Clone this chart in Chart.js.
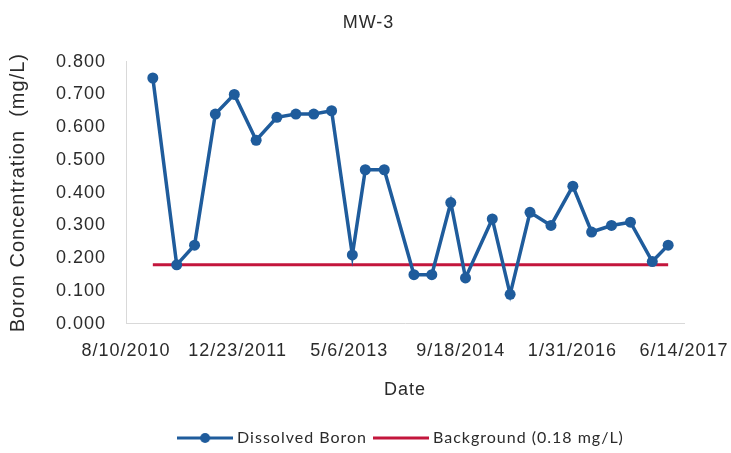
<!DOCTYPE html>
<html>
<head>
<meta charset="utf-8">
<script src="https://cdn.jsdelivr.net/npm/chart.js@4.4.1/dist/chart.umd.min.js"></script>
<style>
  html, body { margin: 0; padding: 0; background: #fff; }
  #wrap { width: 731px; height: 453px; position: relative; }
</style>
</head>
<body>
<div id="wrap"><canvas id="boron-chart"></canvas></div>
<script>
// --- data --- //
const sampleDates = [
    "2010-12-08", "2011-03-25", "2011-06-13", "2011-09-14", "2011-12-08",
    "2012-03-15", "2012-06-16", "2012-09-09", "2012-11-28", "2013-02-16",
    "2013-05-20", "2013-07-17", "2013-10-10", "2014-02-20", "2014-05-11",
    "2014-08-04", "2014-10-09", "2015-02-06", "2015-04-27", "2015-07-25",
    "2015-10-27", "2016-02-02", "2016-04-26", "2016-07-24", "2016-10-17",
    "2017-01-23", "2017-04-04"
];
const boronValues = [
    0.75, 0.18, 0.24, 0.64, 0.70,
    0.56, 0.63, 0.64, 0.64, 0.65,
    0.21, 0.47, 0.47, 0.15, 0.15,
    0.37, 0.14, 0.32, 0.09, 0.34,
    0.30, 0.42, 0.28, 0.30, 0.31,
    0.19, 0.24
];
const backgroundLevel = 0.18;
const axisStart = "2010-08-10";
const axisEnd = "2017-06-14";
const tickStepDays = 500;
const yTicks = [0, 0.1, 0.2, 0.3, 0.4, 0.5, 0.6, 0.7, 0.8];

const blue = '#1f5c9c';
const red = '#c3163c';
const textColor = '#2b2b2b';
const DAY = 86400000;

// days since the first axis date, so the 500 day ticks line up
const startMs = Date.parse(axisStart);
const toDay = d => (Date.parse(d) - startMs) / DAY;
const fmtDate = days => {
    const d = new Date(startMs + days * DAY);
    return (d.getUTCMonth() + 1) + '/' + d.getUTCDate() + '/' + d.getUTCFullYear();
};

const boronPoints = sampleDates.map((d, i) => ({ x: toDay(d), y: boronValues[i] }));
const backgroundPoints = [
    { x: toDay(sampleDates[0]), y: backgroundLevel },
    { x: toDay(sampleDates[sampleDates.length - 1]), y: backgroundLevel }
];

// legend swatches: line with a dot, and plain line
const makeSwatch = (color, withDot) => {
    const c = document.createElement('canvas');
    c.width = 56; c.height = 14;
    const g = c.getContext('2d');
    g.strokeStyle = color;
    g.lineWidth = 3;
    g.beginPath(); g.moveTo(0, 7); g.lineTo(56, 7); g.stroke();
    if (withDot) {
        g.fillStyle = color;
        g.beginPath(); g.arc(28, 7, 5, 0, Math.PI * 2); g.fill();
    }
    return c;
};
const boronSwatch = makeSwatch(blue, true);
const bgSwatch = makeSwatch(red, false);

// widen text a little, the scanned original is stretched sideways
// and nudge the legend right like in the original
const tweaksPlugin = {
    id: 'tweaks',
    beforeLayout(chart) { chart.ctx.letterSpacing = '1px'; },
    afterLayout(chart) {
        chart.legend.left += 34;
        chart.legend.right += 34;
        chart.legend.top += 3;
        chart.legend.bottom += 3;
    },
    beforeDraw(chart) { chart.ctx.letterSpacing = '1px'; }
};

const axisFont = { family: 'Liberation Sans, Arial, sans-serif', size: 18 };

new Chart(document.getElementById('boron-chart'), {
    type: 'line',
    data: {
        datasets: [{
            label: 'Dissolved Boron',
            data: boronPoints,
            borderColor: blue,
            backgroundColor: blue,
            borderWidth: 3.5,
            pointRadius: 5.5,
            pointBorderWidth: 0,
            pointStyle: 'circle',
            tension: 0
        }, {
            label: 'Background (0.18 mg/L)',
            data: backgroundPoints,
            borderColor: red,
            backgroundColor: red,
            borderWidth: 3,
            pointRadius: 0
        }]
    },
    options: {
        responsive: true,
        maintainAspectRatio: false,
        animation: false,
        layout: { padding: { left: 6, right: 0, top: 10, bottom: 0 } },
        plugins: {
            title: {
                display: true,
                text: 'MW-3',
                color: textColor,
                font: { family: 'Liberation Sans, Arial, sans-serif', size: 18, weight: 'normal' },
                padding: { top: 2, bottom: 28 }
            },
            legend: {
                position: 'bottom',
                labels: {
                    usePointStyle: true,
                    pointStyleWidth: 48,
                    color: textColor,
                    font: { family: 'Lato, sans-serif', size: 16 },
                    padding: 10,
                    generateLabels: chart => chart.data.datasets.map((ds, i) => ({
                        text: ds.label,
                        pointStyle: i === 0 ? boronSwatch : bgSwatch,
                        fillStyle: ds.borderColor,
                        strokeStyle: ds.borderColor,
                        lineWidth: 0,
                        fontColor: textColor,
                        datasetIndex: i
                    }))
                }
            },
            tooltip: { enabled: false }
        },
        scales: {
            x: {
                type: 'linear',
                min: 0,
                max: toDay(axisEnd),
                grid: { display: false, drawTicks: false },
                border: { display: true, color: '#d9d9d9', width: 1 },
                afterFit: axis => { axis.paddingRight = 47; },
                ticks: {
                    stepSize: tickStepDays,
                    color: textColor,
                    font: axisFont,
                    padding: 16,
                    maxRotation: 0,
                    callback: v => fmtDate(v)
                },
                title: {
                    display: true,
                    text: 'Date',
                    color: textColor,
                    font: axisFont,
                    padding: { top: 2, bottom: 16 }
                }
            },
            y: {
                min: yTicks[0],
                max: yTicks[yTicks.length - 1],
                grid: { display: false, drawTicks: false },
                border: { display: true, color: '#d9d9d9', width: 1 },
                afterBuildTicks: axis => { axis.ticks = yTicks.map(v => ({ value: v })); },
                ticks: {
                    color: textColor,
                    font: axisFont,
                    padding: 20,
                    callback: v => v.toFixed(3)
                },
                title: {
                    display: true,
                    text: 'Boron Concentration  (mg/L)',
                    color: textColor,
                    font: { family: 'Liberation Sans, Arial, sans-serif', size: 20 },
                    padding: { top: 0, bottom: 6 }
                }
            }
        }
    },
    plugins: [tweaksPlugin]
});
</script>
</body>
</html>
